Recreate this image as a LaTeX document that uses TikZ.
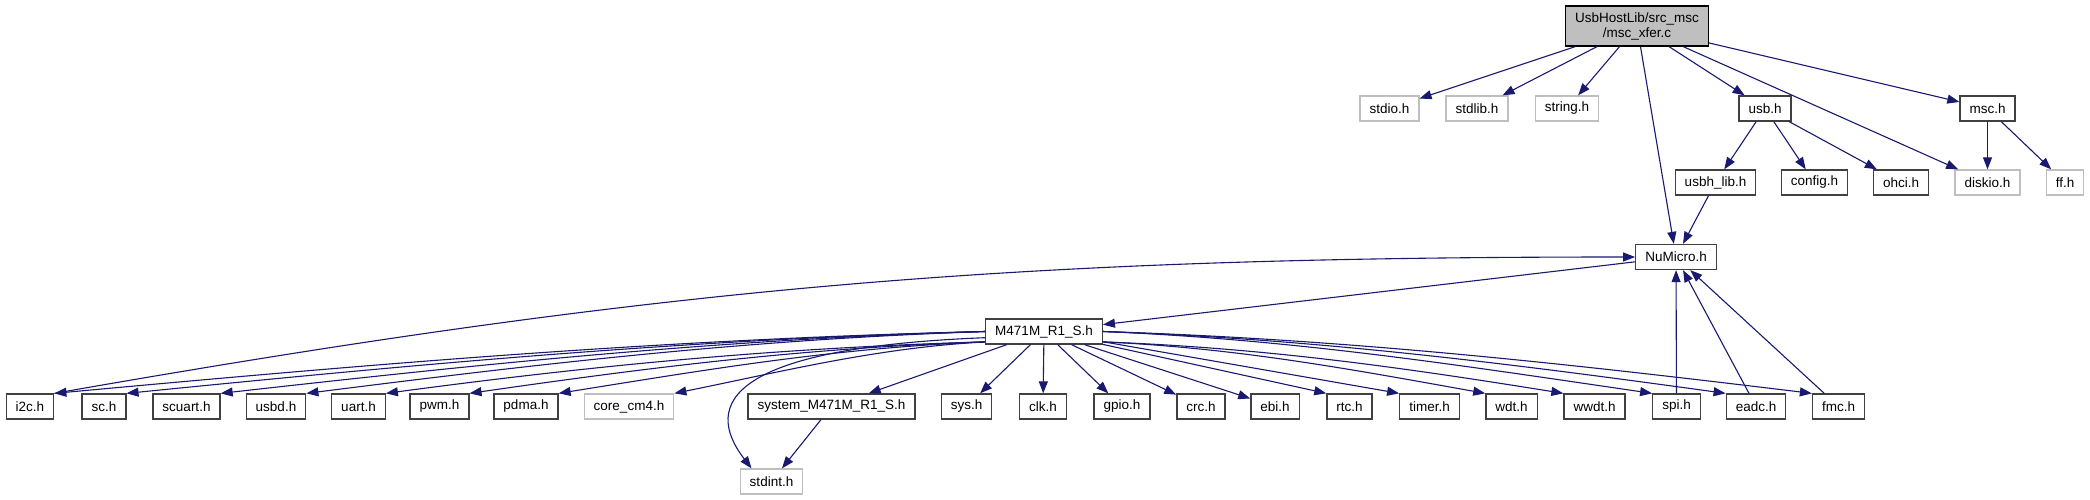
\documentclass[tikz,border=0pt]{standalone}
\usepackage{fontspec}
\setmainfont{Liberation Sans}
\usetikzlibrary{arrows.meta}
\definecolor{edgeblue}{HTML}{191970}
\definecolor{grey75}{HTML}{BFBFBF}
\definecolor{grey25}{HTML}{404040}

\begin{document}
\begin{tikzpicture}[x=1pt, y=1pt, >={Triangle[length=12pt,width=9pt]}]
\tikzstyle{header} = [draw=grey25, line width=1.3pt, fill=white, rectangle, inner xsep=9.5pt, inner ysep=0pt, minimum height=25pt, font=\fontsize{13.5}{15}\selectfont]
\tikzstyle{syshdr} = [header, draw=grey75]
\tikzstyle{srcfile} = [header, draw=black, fill=grey75, align=center, minimum height=40pt]
\tikzstyle{dep} = [draw=edgeblue, ->, line width=1.1pt]
\useasboundingbox (0,0) rectangle (2090,-500);

% Source file and what it includes
\node [srcfile] (MAIN) at (1637,-26) {UsbHostLib/src\_msc\\/msc\_xfer.c};
\node [syshdr] (STDIO) at (1389.5,-108.5) {stdio.h};
\node [syshdr] (STDLIB) at (1477,-108.5) {stdlib.h};
\node [syshdr] (STRING) at (1567,-108.5) {string.h};
\node [header] (USB) at (1765,-108.5) {usb.h};
\node [header] (MSC) at (1987.5,-108.5) {msc.h};
\node [header] (USBHLIB) at (1715.5,-182.5) {usbh\_lib.h};
\node [header] (CONFIG) at (1814.5,-182.5) {config.h};
\node [header] (OHCI) at (1901,-182.5) {ohci.h};
\node [syshdr] (DISKIO) at (1987.5,-182.5) {diskio.h};
\node [syshdr] (FF) at (2065,-182.5) {ff.h};
\node [header] (NUMICRO) at (1676,-257) {NuMicro.h};
\node [header] (M471M) at (1044,-331.5) {M471M\_R1\_S.h};

% Driver headers along the bottom
\node [header] (I2C) at (30,-406.5) {i2c.h};
\node [header] (SC) at (104,-406.5) {sc.h};
\node [header] (SCUART) at (186.5,-406.5) {scuart.h};
\node [header] (USBD) at (276,-406.5) {usbd.h};
\node [header] (UART) at (358.5,-406.5) {uart.h};
\node [header] (PWM) at (439.5,-406.5) {pwm.h};
\node [header] (PDMA) at (526,-406.5) {pdma.h};
\node [syshdr] (CORECM4) at (629,-406.5) {core\_cm4.h};
\node [header] (SYSTEM) at (831.5,-406.5) {system\_M471M\_R1\_S.h};
\node [header] (SYS) at (966.5,-406.5) {sys.h};
\node [header] (CLK) at (1043,-406.5) {clk.h};
\node [header] (GPIO) at (1122,-406.5) {gpio.h};
\node [header] (CRC) at (1201,-406.5) {crc.h};
\node [header] (EBI) at (1275,-406.5) {ebi.h};
\node [header] (RTC) at (1349.5,-406.5) {rtc.h};
\node [header] (TIMER) at (1429.5,-406.5) {timer.h};
\node [header] (WDT) at (1511.5,-406.5) {wdt.h};
\node [header] (WWDT) at (1594.5,-406.5) {wwdt.h};
\node [header] (SPI) at (1676.5,-406.5) {spi.h};
\node [header] (EADC) at (1756,-406.5) {eadc.h};
\node [header] (FMC) at (1838.5,-406.5) {fmc.h};
\node [syshdr] (STDINT) at (771.5,-481.5) {stdint.h};

% Include edges, upper part
\draw [dep] (MAIN) -- (STDIO);
\draw [dep] (MAIN) -- (STDLIB);
\draw [dep] (MAIN) -- (STRING);
\draw [dep] (MAIN) -- (NUMICRO);
\draw [dep] (MAIN) -- (USB);
\draw [dep] (MAIN) -- (DISKIO);
\draw [dep] (MAIN) -- (MSC);
\draw [dep] (USB) -- (USBHLIB);
\draw [dep] (USB) -- (CONFIG);
\draw [dep] (USB) -- (OHCI);
\draw [dep] (MSC) -- (DISKIO);
\draw [dep] (MSC) -- (FF);
\draw [dep] (USBHLIB) -- (NUMICRO);
\draw [dep] (NUMICRO) -- (M471M);
\draw [dep] (I2C.north east) .. controls +(610,107) and +(-620,0) .. (NUMICRO.west);
\draw [dep] (SPI) -- (NUMICRO);
\draw [dep] (EADC) -- (NUMICRO);
\draw [dep] (FMC) -- (NUMICRO);

% Include edges out of M471M_R1_S.h
\draw [dep] (M471M.west) .. controls +(-326,-8) and +(326,30) .. (I2C.north east);
\draw [dep] (M471M.west) .. controls +(-300,-8) and +(300,30) .. (SC.north east);
\draw [dep] (M471M.west) .. controls +(-268,-8) and +(268,30) .. (SCUART.north east);
\draw [dep] (M471M.west) .. controls +(-238,-8) and +(238,30) .. (USBD.north east);
\draw [dep] (M471M.190) .. controls +(-210,-6) and +(210,28) .. (UART.north east);
\draw [dep] (M471M.190) .. controls +(-181,-6) and +(181,26) .. (PWM.north east);
\draw [dep] (M471M.190) .. controls +(-150,-6) and +(150,24) .. (PDMA.north east);
\draw [dep] (M471M.190) .. controls +(-109,-6) and +(109,22) .. (CORECM4.north east);
\draw [dep] (M471M.186) .. controls +(-255,-10) and +(-50,65) .. ([xshift=-20pt]STDINT.north);
\draw [dep] (M471M) -- (SYSTEM);
\draw [dep] (M471M) -- (SYS);
\draw [dep] (M471M) -- (CLK);
\draw [dep] (M471M) -- (GPIO);
\draw [dep] (M471M) -- (CRC);
\draw [dep] (M471M) -- (EBI);
\draw [dep] (M471M) -- (RTC.north west);
\draw [dep] (M471M) -- (TIMER.north west);
\draw [dep] (M471M.-10) .. controls +(134,-6) and +(-134,24) .. (WDT.north west);
\draw [dep] (M471M.-10) .. controls +(162,-6) and +(-162,26) .. (WWDT.north west);
\draw [dep] (M471M.east) .. controls +(192,-8) and +(-192,28) .. (SPI.north west);
\draw [dep] (M471M.east) .. controls +(218,-8) and +(-218,30) .. (EADC.north west);
\draw [dep] (M471M.east) .. controls +(248,-8) and +(-248,30) .. (FMC.north west);
\draw [dep] (SYSTEM) -- (STDINT);

\end{tikzpicture}
\end{document}
